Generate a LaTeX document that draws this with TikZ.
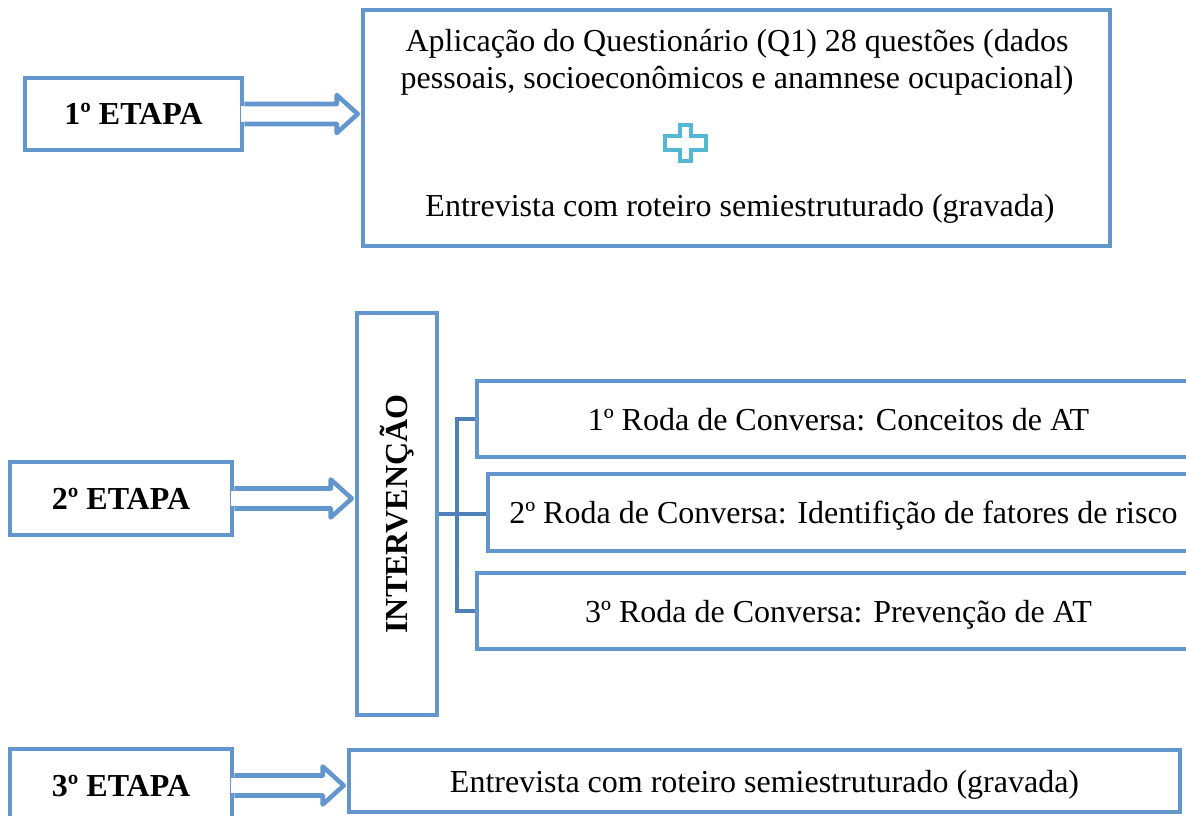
\documentclass[tikz,border=0pt]{standalone}
\usepackage{fontspec}
\setmainfont{Liberation Serif}
\usetikzlibrary{calc}

\definecolor{azulborda}{RGB}{98,150,204}
\definecolor{azulchave}{RGB}{80,128,186}
\definecolor{ciano}{RGB}{84,184,212}

\tikzset{
  caixa/.style={draw=azulborda, line width=3.4pt, fill=white, inner sep=0pt, text depth=0pt},
  etapa/.style={caixa, font=\fontsize{24}{25}\selectfont\bfseries},
  seta/.style={draw=azulborda, line width=3.4pt, line join=round, fill=white},
  chave/.style={draw=azulchave, line width=3.6pt},
}

\begin{document}
\begin{tikzpicture}[x=0.75pt, y=-0.75pt, font=\fontsize{24}{25}\selectfont]
    \clip (0,0) rectangle (1186,816);

    % Etapas
    \node[etapa, minimum width=162.75pt, minimum height=54pt]   (e1) at (133.5,114) {1º ETAPA};
    \node[etapa, minimum width=166.5pt, minimum height=54.75pt] (e2) at (121,498.5) {2º ETAPA};
    \node[etapa, minimum width=166.5pt, minimum height=54.75pt] (e3) at (121,785.5) {3º ETAPA};

    % Primeira etapa
    \node[caixa, minimum width=560.25pt, minimum height=177pt] (q1) at (736.5,128) {};
    \node[align=center, font=\fontsize{24}{27.75}\selectfont] (t1) at (737,62) {Aplicação do Questionário (Q1) 28 questões (dados\\pessoais, socioeconômicos e anamnese ocupacional)};
    \coordinate (mais) at (685.5,143);
    \draw[draw=ciano, line width=3.4pt, fill=white, shift={(mais)}]
        (-5.5,-18) -- (5.5,-18) -- (5.5,-7) -- (20.5,-7) -- (20.5,7) -- (5.5,7)
        -- (5.5,18) -- (-5.5,18) -- (-5.5,7) -- (-20.5,7) -- (-20.5,-7) -- (-5.5,-7) -- cycle;
    \node (t2) at (740,209) {Entrevista com roteiro semiestruturado (gravada)};

    % Intervencao
    \node[caixa, minimum width=60pt, minimum height=301.5pt] (int) at (397,514) {\rotatebox{90}{\bfseries INTERVENÇÃO}};
    \node[caixa, minimum width=542.25pt, minimum height=57pt]   (r1) at (838.5,419) {1º Roda de Conversa: Conceitos de AT};
    \node[caixa, minimum width=533.25pt, minimum height=57.75pt] (r2) at (843.5,512.5) {2º Roda de Conversa: Identifição de fatores de risco};
    \node[caixa, minimum width=542.25pt, minimum height=57pt]   (r3) at (838.5,611) {3º Roda de Conversa: Prevenção de AT};

    \coordinate (ch) at (457,514);
    \draw[chave] (int.east |- ch) -- (r2.west |- ch);
    \draw[chave] (r1.west) -| (ch) |- (r3.west);

    % Terceira etapa
    \node[caixa, minimum width=623.25pt, minimum height=46.5pt] (r4) at (764.5,781) {Entrevista com roteiro semiestruturado (gravada)};

    % Setas
    \foreach \e/\alvo in {e1/q1, e2/int, e3/r4} {
      \coordinate (ponta) at ($(\e.east -| \alvo.west)+(-3,0)$);
      \fill[white] ($(\e.east)+(-3,-7.7)$) rectangle ($(\e.east)+(3,7.7)$);
      \draw[seta] ($(\e.east)+(0,-10)$) -- ($(ponta)+(-21,-10)$) -- ($(ponta)+(-21,-19)$)
          -- (ponta) -- ($(ponta)+(-21,19)$) -- ($(ponta)+(-21,10)$) -- ($(\e.east)+(0,10)$);
    }

\end{tikzpicture}
\end{document}
